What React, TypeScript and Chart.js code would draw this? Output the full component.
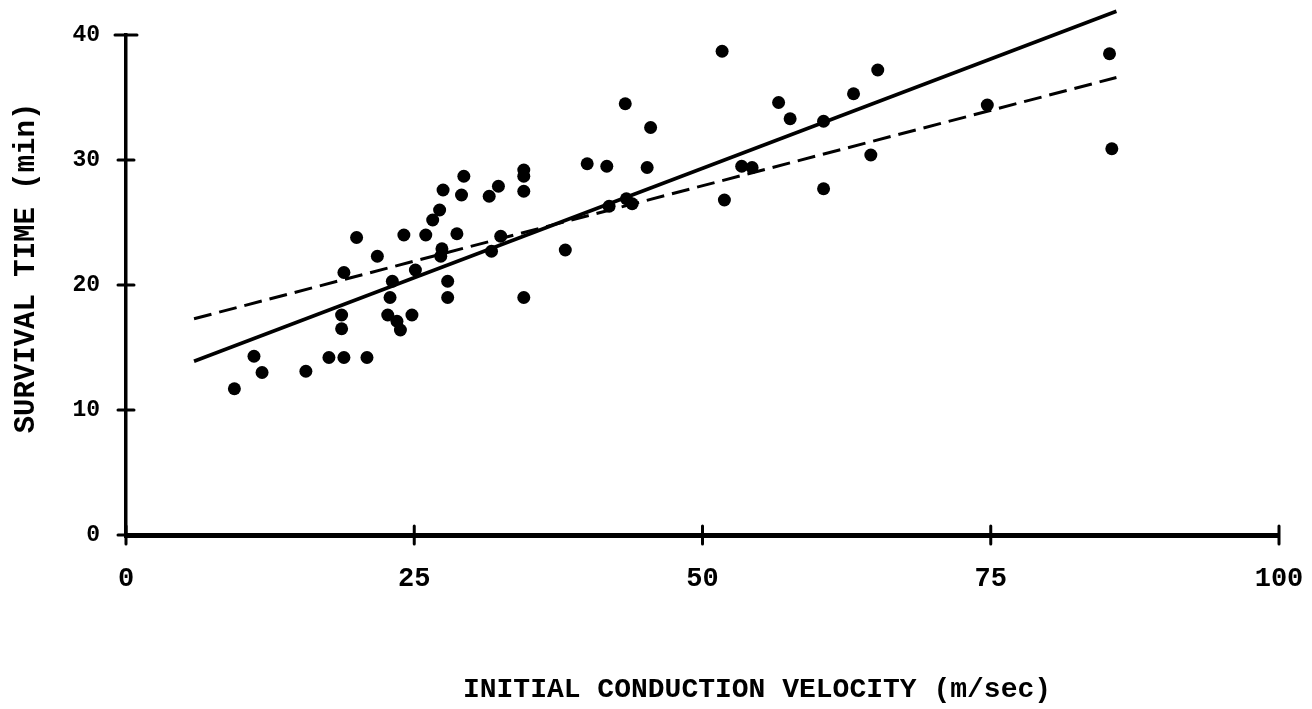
import React, { useEffect, useRef } from "react";
import { Chart, registerables } from "chart.js";

Chart.register(...registerables);

// Scatter observations (initial conduction velocity m/sec, survival time min)
const velocity = [
  9.4, 11.1, 11.8, 15.6, 17.6, 18.9, 20.9, 18.7, 18.7, 18.9, 20.0, 21.8,
  23.1, 22.9, 22.7, 23.5, 23.8, 24.8, 25.1, 24.1, 26.0, 26.6, 27.2, 27.5,
  27.4, 27.3, 27.9, 27.9, 28.7, 29.1, 29.3, 31.5, 31.7, 32.3, 32.5, 34.5,
  34.5, 34.5, 34.5, 38.1, 40.0, 41.7, 41.9, 43.4, 43.9, 43.3, 45.2, 45.5,
  51.7, 51.9, 53.4, 54.3, 56.6, 57.6, 60.5, 60.5, 63.1, 64.6, 65.2, 74.7,
  85.3, 85.5,
];
const survival = [
  11.7, 14.3, 13.0, 13.1, 14.2, 14.2, 14.2, 17.6, 16.5, 21.0, 23.8, 22.3,
  20.3, 19.0, 17.6, 17.1, 16.4, 17.6, 21.2, 24.0, 24.0, 25.2, 26.0, 27.6,
  22.9, 22.3, 20.3, 19.0, 24.1, 27.2, 28.7, 27.1, 22.7, 27.9, 23.9, 29.2,
  28.7, 27.5, 19.0, 22.8, 29.7, 29.5, 26.3, 26.9, 26.5, 34.5, 29.4, 32.6,
  38.7, 26.8, 29.5, 29.4, 34.6, 33.3, 33.1, 27.7, 35.3, 30.4, 37.2, 34.4,
  38.5, 30.9,
];

// Fitted lines (end points)
const solidLineX = [5.9, 85.9];
const solidLineY = [13.9, 41.9];
const dashedLineX = [5.9, 85.9];
const dashedLineY = [17.3, 36.6];

// Axis ticks
const xTicks = [0, 25, 50, 75, 100];
const yTicks = [0, 10, 20, 30, 40];

const xTitle = "INITIAL CONDUCTION VELOCITY (m/sec)";
const yTitle = "SURVIVAL TIME (min)";

const FONT = "'Liberation Mono', 'Courier New', monospace";

const titlesPlugin = {
  id: "customTitles",
  afterDraw(chart: any) {
    const ctx = chart.ctx;
    const xs = chart.scales.x;
    const ys = chart.scales.y;
    const area = chart.chartArea;
    ctx.save();
    ctx.strokeStyle = "#000";
    ctx.lineCap = "round";
    // cross ticks on the y axis
    ctx.lineWidth = 3;
    yTicks.forEach((v, i) => {
      const py = ys.getPixelForValue(v);
      const half = i === yTicks.length - 1 ? 11 : 8;
      ctx.beginPath();
      ctx.moveTo(area.left - half, py);
      ctx.lineTo(area.left + half, py);
      ctx.stroke();
    });
    // cross ticks on the x axis
    xTicks.forEach((v) => {
      const px = xs.getPixelForValue(v);
      ctx.beginPath();
      ctx.moveTo(px, area.bottom - 9);
      ctx.lineTo(px, area.bottom + 9);
      ctx.stroke();
    });
    // axis titles
    ctx.fillStyle = "#000";
    ctx.textAlign = "center";
    ctx.textBaseline = "middle";
    ctx.font = `bold 28px ${FONT}`;
    ctx.fillText(xTitle, 757, 690);
    ctx.translate(27, 268);
    ctx.rotate(-Math.PI / 2);
    ctx.font = `bold 29px ${FONT}`;
    ctx.fillText(yTitle, 0, 0);
    ctx.restore();
  },
};

export default function App() {
  const canvasRef = useRef<HTMLCanvasElement | null>(null);

  useEffect(() => {
    if (!canvasRef.current) return;
    const chart = new Chart(canvasRef.current, {
      type: "scatter",
      data: {
        datasets: [
          {
            type: "line",
            data: solidLineX.map((x, i) => ({ x, y: solidLineY[i] })),
            borderColor: "#000",
            borderWidth: 3.5,
            pointRadius: 0,
            fill: false,
            clip: false as any,
          },
          {
            type: "line",
            data: dashedLineX.map((x, i) => ({ x, y: dashedLineY[i] })),
            borderColor: "#000",
            borderWidth: 3,
            borderDash: [18, 8],
            pointRadius: 0,
            fill: false,
            clip: false as any,
          },
          {
            type: "scatter",
            data: velocity.map((x, i) => ({ x, y: survival[i] })),
            backgroundColor: "#000",
            borderColor: "#000",
            borderWidth: 0,
            pointRadius: 6.5,
            clip: false as any,
          },
        ],
      },
      options: {
        animation: false,
        responsive: false,
        devicePixelRatio: 1,
        layout: { padding: { left: 0, right: 33, top: 35, bottom: 0 } },
        plugins: {
          legend: { display: false },
          tooltip: { enabled: false },
        },
        scales: {
          x: {
            type: "linear",
            min: 0,
            max: 100,
            afterFit: (s: any) => {
              s.height = 174;
              s.paddingLeft = 0;
              s.paddingRight = 0;
            },
            afterBuildTicks: (s: any) => {
              s.ticks = xTicks.map((v) => ({ value: v }));
            },
            ticks: {
              color: "#000",
              padding: 20,
              font: { family: FONT, size: 27, weight: "bold" },
              maxRotation: 0,
            },
            grid: {
              display: true,
              drawOnChartArea: false,
              drawTicks: true,
              tickLength: 8,
              color: "#000",
              lineWidth: 2,
            },
            border: { display: true, color: "#000", width: 5 },
          },
          y: {
            type: "linear",
            min: 0,
            max: 40,
            afterFit: (s: any) => {
              s.width = 126;
              s.paddingTop = 0;
              s.paddingBottom = 0;
            },
            afterBuildTicks: (s: any) => {
              s.ticks = yTicks.map((v) => ({ value: v }));
            },
            ticks: {
              color: "#000",
              padding: 18,
              font: { family: FONT, size: 23, weight: "bold" },
            },
            grid: {
              display: true,
              drawOnChartArea: false,
              drawTicks: true,
              tickLength: 8,
              color: "#000",
              lineWidth: 2,
            },
            border: { display: true, color: "#000", width: 3.5 },
          },
        },
      },
      plugins: [titlesPlugin],
    });
    return () => chart.destroy();
  }, []);

  return (
    <div
      style={{
        position: "fixed",
        left: 0,
        top: 0,
        width: 1312,
        height: 709,
        background: "#fff",
      }}
    >
      <canvas ref={canvasRef} width={1312} height={709} />
    </div>
  );
}
